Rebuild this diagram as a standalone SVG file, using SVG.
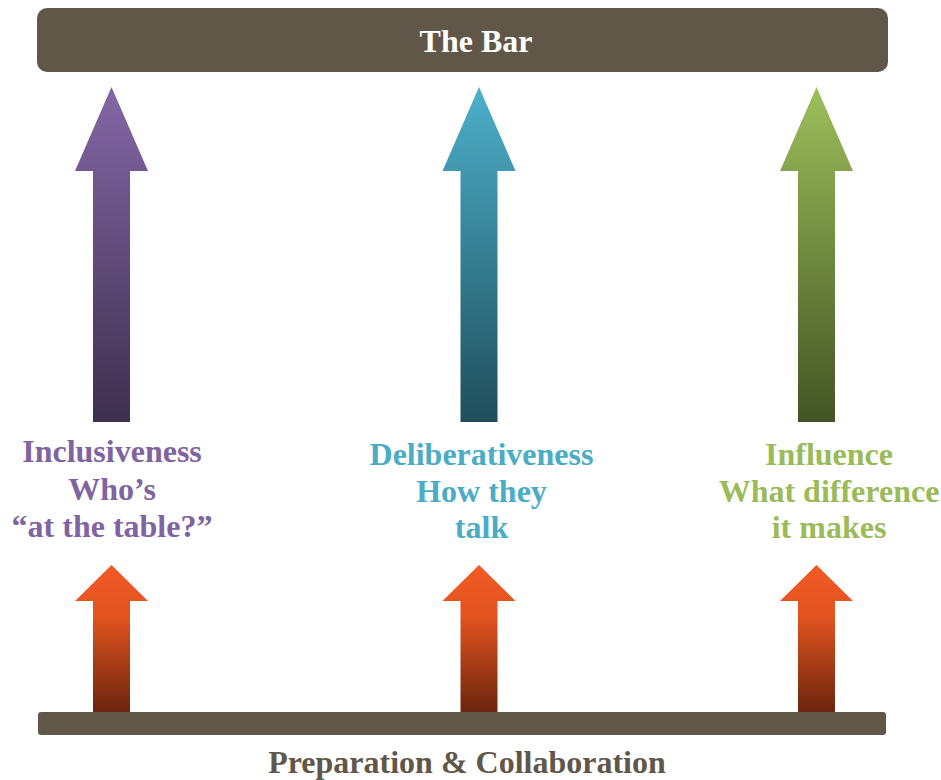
<svg xmlns="http://www.w3.org/2000/svg" width="941" height="780" viewBox="0 0 941 780">
  <style>
    .bar { fill: #615749; }
    .t { font-family: "Liberation Serif", "Times New Roman", serif; font-weight: bold; font-size: 32px; text-anchor: middle; }
    .white { fill: #ffffff; }
    .brown { fill: #615749; }
    .purple { fill: #8064a2; }
    .teal { fill: #4bacc6; }
    .green { fill: #9bbb59; }
  </style>
  <defs>
    <linearGradient id="gPurple" x1="0" y1="0" x2="0" y2="1">
      <stop offset="0" stop-color="#8467a7"/>
      <stop offset="1" stop-color="#3d2f4e"/>
    </linearGradient>
    <linearGradient id="gTeal" x1="0" y1="0" x2="0" y2="1">
      <stop offset="0" stop-color="#4db0cb"/>
      <stop offset="1" stop-color="#1f4e5b"/>
    </linearGradient>
    <linearGradient id="gGreen" x1="0" y1="0" x2="0" y2="1">
      <stop offset="0" stop-color="#9dbf5b"/>
      <stop offset="1" stop-color="#435424"/>
    </linearGradient>
    <linearGradient id="gOrange" x1="0" y1="0" x2="0" y2="1">
      <stop offset="0" stop-color="#f25a25"/>
      <stop offset="0.35" stop-color="#e2531f"/>
      <stop offset="1" stop-color="#6b250e"/>
    </linearGradient>
  </defs>

  <g id="the-bar">
    <rect class="bar" x="37" y="8" width="851" height="64" rx="10" ry="10"/>
    <text class="t white" x="476" y="52">The Bar</text>
  </g>

  <g id="connectors">
    <path id="arrow-inclusiveness" fill="url(#gPurple)" d="M111.5 87 L148 171 L130 171 L130 422 L93 422 L93 171 L75 171 Z"/>
    <path id="arrow-deliberativeness" fill="url(#gTeal)" d="M479 87 L515.5 171 L497.5 171 L497.5 422 L460.5 422 L460.5 171 L442.5 171 Z"/>
    <path id="arrow-influence" fill="url(#gGreen)" d="M816.5 87 L853 171 L835 171 L835 422 L798 422 L798 171 L780 171 Z"/>
    <path id="arrow-prep-1" fill="url(#gOrange)" d="M111.5 565 L148 601 L130 601 L130 712 L93 712 L93 601 L75 601 Z"/>
    <path id="arrow-prep-2" fill="url(#gOrange)" d="M479 565 L515.5 601 L497.5 601 L497.5 712 L460.5 712 L460.5 601 L442.5 601 Z"/>
    <path id="arrow-prep-3" fill="url(#gOrange)" d="M816.5 565 L853 601 L835 601 L835 712 L798 712 L798 601 L780 601 Z"/>
  </g>

  <g id="inclusiveness">
    <text class="t purple" x="112" y="462">Inclusiveness</text>
    <text class="t purple" x="112" y="500">Who’s</text>
    <text class="t purple" x="112" y="537">“at the table?”</text>
  </g>

  <g id="deliberativeness">
    <text class="t teal" x="481.5" y="465">Deliberativeness</text>
    <text class="t teal" x="481.5" y="502">How they</text>
    <text class="t teal" x="481.5" y="538">talk</text>
  </g>

  <g id="influence">
    <text class="t green" x="829" y="465">Influence</text>
    <text class="t green" x="829" y="502">What difference</text>
    <text class="t green" x="829" y="538">it makes</text>
  </g>

  <g id="preparation-collaboration">
    <rect class="bar" x="38" y="712" width="848" height="23" rx="3" ry="3"/>
    <text class="t brown" x="467" y="773">Preparation &amp; Collaboration</text>
  </g>
</svg>
